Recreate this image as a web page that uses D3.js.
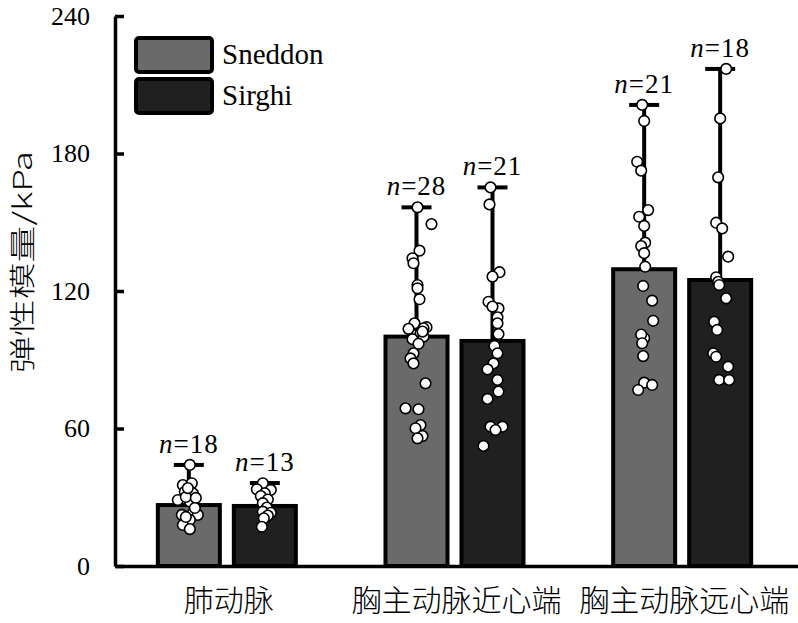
<!DOCTYPE html>
<html>
<head>
<meta charset="utf-8">
<script src="https://cdn.jsdelivr.net/npm/d3@7"></script>
<style>
  html, body { margin: 0; padding: 0; background: #fff; }
  svg { display: block; }
</style>
</head>
<body>
<svg id="chart" width="798" height="623"></svg>
<script>
// ---------------- data ----------------
const categories = ["肺动脉", "胸主动脉近心端", "胸主动脉远心端"];
const methods = ["Sneddon", "Sirghi"];
const yTicks = [0, 60, 120, 180, 240];
const yTitle = "弹性模量/kPa";

const sneddonMean = [26.6, 100.1, 129.5];
const sirghiMean = [26.2, 98.2, 124.8];
const sneddonErrTop = [44.1, 156.5, 201.2];
const sirghiErrTop = [36.2, 165.2, 216.9];
const sneddonN = [18, 28, 21];
const sirghiN = [13, 21, 18];

// individual measurements (kPa) and their horizontal jitter (px)
const sneddonPoints = [
  [44.1, 35.3, 36.1, 32.4, 31.7, 28.8, 28.1, 30.1, 29.7, 22.3, 23.0, 22.3, 20.1, 17.9, 16.1, 21.4, 25.3, 34.0],
  [156.5, 149.2, 137.6, 134.3, 132.1, 122.6, 121.2, 116.4, 105.9, 104.2, 103.7, 100.8, 101.5, 100.1,
   92.8, 90.6, 88.4, 79.7, 68.8, 68.4, 61.5, 60.1, 56.7, 55.7, 103.5, 102.3, 99.0, 97.0],
  [201.2, 194.2, 176.4, 172.5, 155.3, 152.4, 148.4, 141.1, 139.6, 136.5, 130.6, 122.2, 115.8, 107.0,
   99.4, 101.0, 97.2, 91.6, 80.0, 79.0, 76.8]
];
const sneddonJitter = [
  [1, -6, 3, -4, 4, -11, 1, -3, 7, -7, 4, 9, 1, -6, 1, -3, 6, -1],
  [1, 15, 3, -4, -3, 1, 1, 3, -2, 10, 7, -3, 4, 7, -3, -6, -3, 9, -11, 2, 4, -1, 6, 1, -8, 6, -4, 2],
  [-2, 0, -7, -3, 4, -5, 0, 1, -3, 0, 1, -1, 8, 9, 0, -3, -2, -1, 0, 8, -6]
];
const sirghiPoints = [
  [36.1, 33.5, 33.2, 31.7, 30.5, 29.0, 27.4, 25.5, 23.7, 23.2, 22.0, 20.8, 17.1],
  [165.2, 157.8, 128.2, 126.3, 115.3, 112.4, 113.2, 108.5, 105.9, 101.2, 96.0, 92.8, 88.4, 85.8,
   81.2, 76.1, 72.9, 60.8, 60.8, 52.4, 59.3],
  [216.9, 195.3, 169.6, 149.8, 147.3, 135.0, 126.0, 124.0, 122.6, 116.8, 106.6, 103.0, 92.8, 91.3,
   87.0, 81.2, 81.2]
];
const sirghiJitter = [
  [-2, -8, 6, 0, -4, 3, -2, 2, -2, 6, 3, -1, -3],
  [-2, -3, 7, 0, -4, 6, 0, 5, 5, 6, 2, 5, 1, -5, 5, 6, -5, -2, 10, -9, 3],
  [6, 0, -2, -4, 2, 8, -4, -2, -1, 6, -6, -3, -7, -4, 8, -1, 9]
];

const colors = { Sneddon: "#6a6a6a", Sirghi: "#202020" };

// ---------------- layout ----------------
const svg = d3.select("#chart");
const serif = "'Liberation Serif', 'DejaVu Serif', serif";
const cjk = "'Noto Sans CJK SC', 'Noto Sans', sans-serif";

const y = d3.scaleLinear().domain([0, 240]).range([566, 16]);
const x0 = d3.scaleBand().domain(categories).range([115, 798]);
const x1 = d3.scaleBand().domain(methods)
  .range([-2, x0.bandwidth() - 2])
  .paddingInner(0.184).paddingOuter(0.59);

const series = {
  Sneddon: { mean: sneddonMean, err: sneddonErrTop, n: sneddonN, pts: sneddonPoints, jit: sneddonJitter },
  Sirghi: { mean: sirghiMean, err: sirghiErrTop, n: sirghiN, pts: sirghiPoints, jit: sirghiJitter }
};

const rows = [];
categories.forEach((c, i) => {
  methods.forEach(m => {
    const s = series[m];
    rows.push({ cat: c, method: m, mean: s.mean[i], err: s.err[i], n: s.n[i],
      pts: s.pts[i].map((v, k) => ({ v, dx: s.jit[i][k] })) });
  });
});

const cx = d => x0(d.cat) + x1(d.method) + x1.bandwidth() / 2;

// bars
svg.append("g").selectAll("rect").data(rows).join("rect")
  .attr("x", d => x0(d.cat) + x1(d.method))
  .attr("y", d => y(d.mean))
  .attr("width", x1.bandwidth())
  .attr("height", d => y(0) - y(d.mean))
  .attr("fill", d => colors[d.method])
  .attr("stroke", "#000")
  .attr("stroke-width", 4);

// error bars (upward)
const eb = svg.append("g").attr("stroke", "#000").attr("stroke-width", 4);
eb.selectAll("line.v").data(rows).join("line").attr("class", "v")
  .attr("x1", cx).attr("x2", cx)
  .attr("y1", d => y(d.mean)).attr("y2", d => y(d.err));
eb.selectAll("line.c").data(rows).join("line").attr("class", "c")
  .attr("x1", d => cx(d) - 15).attr("x2", d => cx(d) + 15)
  .attr("y1", d => y(d.err)).attr("y2", d => y(d.err));

// points
const pg = svg.append("g");
rows.forEach(d => {
  pg.append("g").selectAll("circle").data(d.pts).join("circle")
    .attr("cx", p => cx(d) + p.dx)
    .attr("cy", p => y(p.v))
    .attr("r", 5.3)
    .attr("fill", "#fff")
    .attr("stroke", "#000")
    .attr("stroke-width", 1.6);
});

// n labels
const nl = svg.append("g").selectAll("text").data(rows).join("text")
  .attr("x", cx)
  .attr("y", d => y(d.err) - 12)
  .attr("text-anchor", "middle")
  .attr("font-family", serif)
  .attr("font-size", 27)
  .attr("letter-spacing", 1)
  .attr("fill", "#000");
nl.append("tspan").attr("font-style", "italic").text("n");
nl.append("tspan").text(d => "=" + d.n);

// y axis
const yAxis = svg.append("g").attr("transform", "translate(115,0)")
  .call(d3.axisLeft(y).tickValues(yTicks).tickSize(-9).tickSizeOuter(0).tickPadding(25));
yAxis.select(".domain").attr("stroke", "#000").attr("stroke-width", 3.5);
yAxis.selectAll(".tick line").attr("stroke", "#000").attr("stroke-width", 3.5);
yAxis.selectAll(".tick text").attr("font-family", serif).attr("font-size", 26).attr("fill", "#000");

// x axis
const xAxis = svg.append("g").attr("transform", `translate(0,${y(0)})`)
  .call(d3.axisBottom(x0).tickSize(0).tickPadding(24));
xAxis.select(".domain").attr("stroke", "#000").attr("stroke-width", 3.5);
xAxis.selectAll(".tick text").attr("font-family", cjk).attr("font-weight", 300)
  .attr("font-size", 30).attr("fill", "#000");

// y title
svg.append("text")
  .attr("transform", "translate(20,262) rotate(-90)")
  .attr("text-anchor", "middle")
  .attr("dominant-baseline", "central")
  .attr("font-family", cjk)
  .attr("font-weight", 300)
  .attr("font-size", 26)
  .attr("textLength", 222)
  .attr("lengthAdjust", "spacingAndGlyphs")
  .attr("fill", "#000")
  .text(yTitle);

// legend
const lg = svg.append("g").selectAll("g").data(methods).join("g")
  .attr("transform", (d, i) => `translate(136,${38 + i * 41})`);
lg.append("rect")
  .attr("width", 76).attr("height", 34).attr("rx", 3)
  .attr("fill", d => colors[d]).attr("stroke", "#000").attr("stroke-width", 4);
lg.append("text")
  .attr("x", 86).attr("y", 26)
  .attr("font-family", serif).attr("font-size", 29).attr("fill", "#000")
  .text(d => d);
</script>
</body>
</html>
